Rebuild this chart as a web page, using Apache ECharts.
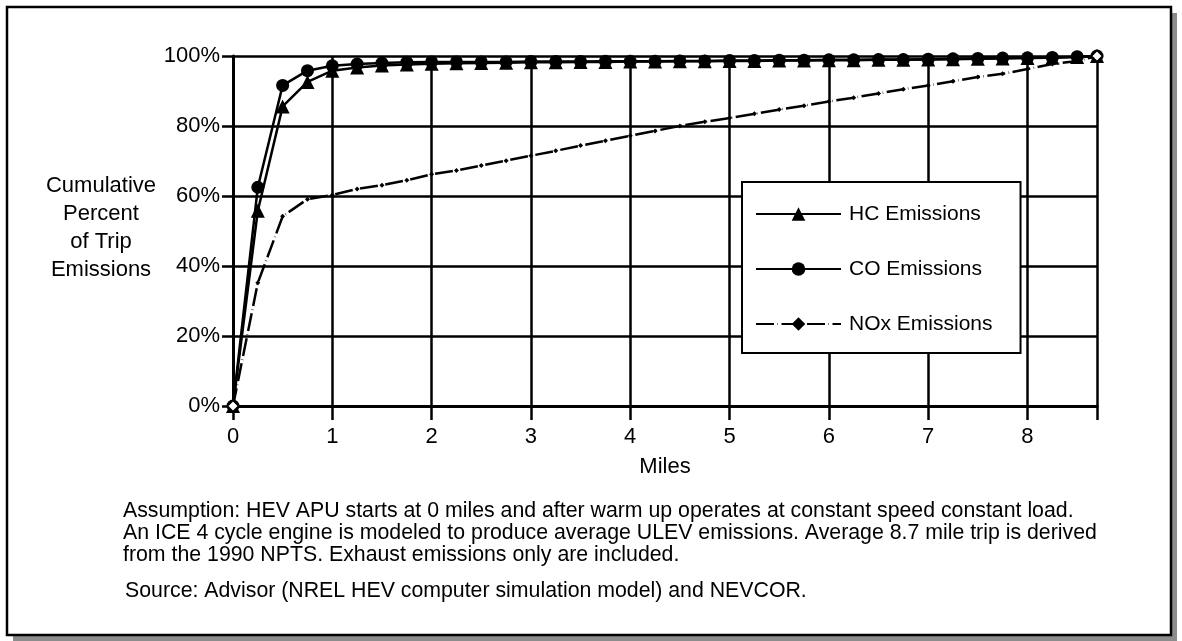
<!DOCTYPE html>
<html>
<head>
<meta charset="utf-8">
<script src="https://cdn.jsdelivr.net/npm/echarts@6/dist/echarts.min.js"></script>
<style>
html,body{margin:0;padding:0;background:#fff;}
#chart{width:1182px;height:641px;}
</style>
</head>
<body>
<div id="chart"></div>
<script>
// Miles travelled (x values)
var miles = [0, 0.25, 0.5, 0.75, 1, 1.25, 1.5, 1.75, 2, 2.25, 2.5, 2.75, 3, 3.25, 3.5, 3.75, 4, 4.25,
  4.5, 4.75, 5, 5.25, 5.5, 5.75, 6, 6.25, 6.5, 6.75, 7, 7.25, 7.5, 7.75, 8, 8.25, 8.5, 8.7];
// Cumulative percent of trip emissions
var hcEmissions = [0, 55.8, 85.6, 92.6, 95.8, 96.7, 97.3, 97.6, 97.8, 97.9, 98.0, 98.1, 98.2, 98.2,
  98.3, 98.3, 98.4, 98.4, 98.5, 98.5, 98.6, 98.6, 98.7, 98.7, 98.8, 98.8, 98.9, 98.9, 99.0, 99.1,
  99.2, 99.3, 99.4, 99.5, 99.7, 100];
var coEmissions = [0, 62.5, 91.6, 95.8, 97.2, 97.7, 98.0, 98.2, 98.3, 98.3, 98.3, 98.3, 98.4, 98.4,
  98.4, 98.5, 98.5, 98.5, 98.6, 98.6, 98.7, 98.7, 98.8, 98.8, 98.9, 98.9, 99.0, 99.0, 99.1, 99.2,
  99.3, 99.4, 99.5, 99.6, 99.8, 100];
var noxEmissions = [0, 35.2, 54.2, 59.1, 60.3, 62.0, 63.1, 64.5, 66.2, 67.3, 68.7, 70.1, 71.5, 72.9,
  74.4, 75.8, 77.2, 78.6, 80.0, 81.2, 82.3, 83.5, 84.7, 85.8, 87.0, 88.1, 89.3, 90.5, 91.6, 92.8,
  94.0, 94.9, 96.3, 97.7, 98.6, 100];
var seriesNames = ['HC Emissions', 'CO Emissions', 'NOx Emissions'];
var yTicks = [0, 20, 40, 60, 80, 100];
var xTicks = [0, 1, 2, 3, 4, 5, 6, 7, 8];
var yAxisTitle = 'Cumulative\nPercent\nof Trip\nEmissions';
var xAxisTitle = 'Miles';
var noteText = 'Assumption: HEV APU starts at 0 miles and after warm up operates at constant speed constant load.\n' +
  'An ICE 4 cycle engine is modeled to produce average ULEV emissions. Average 8.7 mile trip is derived\n' +
  'from the 1990 NPTS. Exhaust emissions only are included.';
var sourceText = 'Source: Advisor (NREL HEV computer simulation model) and NEVCOR.';

var FONT = '"Liberation Sans", Arial, sans-serif';

function pairs(vals) {
  return vals.map(function (v, i) { return [miles[i], v]; });
}
var noxData = pairs(noxEmissions).map(function (p, i) {
  if (i === 0 || i === noxEmissions.length - 1) {
    return { value: p, symbol: 'diamond', symbolSize: 11,
      itemStyle: { color: '#fff', borderColor: '#000', borderWidth: 1.5 } };
  }
  return p;
});

var chart = echarts.init(document.getElementById('chart'), null, { renderer: 'canvas' });
chart.setOption({
  animation: false,
  backgroundColor: '#fff',
  graphic: [
    { type: 'rect', z: -20, silent: true, shape: { x: 13, y: 13, width: 1164, height: 628 },
      style: { fill: '#8c8c8c' } },
    { type: 'rect', z: -19, silent: true, shape: { x: 7, y: 7, width: 1164, height: 628 },
      style: { fill: '#fff', stroke: '#000', lineWidth: 2.5 } }
  ],
  title: [
    { text: yAxisTitle, left: 101, top: 172, textAlign: 'center', padding: 0,
      textStyle: { fontFamily: FONT, fontSize: 22, fontWeight: 'normal', color: '#000', lineHeight: 28, align: 'center' } },
    { text: noteText, left: 123, top: 500, padding: 0,
      textStyle: { fontFamily: FONT, fontSize: 21.3, fontWeight: 'normal', color: '#000', lineHeight: 22 } },
    { text: sourceText, left: 125, top: 580, padding: 0,
      textStyle: { fontFamily: FONT, fontSize: 21.3, fontWeight: 'normal', color: '#000', lineHeight: 22 } }
  ],
  legend: {
    data: seriesNames,
    orient: 'vertical',
    left: 742, top: 182,
    padding: [21, 28, 18, 13],
    itemGap: 33,
    itemWidth: 85,
    itemHeight: 17,
    backgroundColor: '#fff',
    borderColor: '#000',
    borderWidth: 2,
    textStyle: { fontFamily: FONT, fontSize: 21, color: '#000', lineHeight: 22, padding: [0, 0, 0, 3] }
  },
  grid: { left: 233, right: 85, top: 56, bottom: 235, containLabel: false },
  xAxis: {
    type: 'value', min: 0, max: 8.7, interval: 1,
    name: xAxisTitle, nameLocation: 'middle', nameGap: 50,
    nameTextStyle: { fontFamily: FONT, fontSize: 22, color: '#000' },
    axisLine: { show: true, onZero: false, lineStyle: { color: '#000', width: 3 } },
    axisTick: { show: true, length: 14, lineStyle: { color: '#000', width: 2.5 } },
    axisLabel: {
      fontFamily: FONT, fontSize: 22, color: '#000', margin: 20,
      formatter: function (v) { return xTicks.indexOf(v) >= 0 ? String(v) : ''; }
    },
    splitLine: { show: true, lineStyle: { color: '#000', width: 2.5 } }
  },
  yAxis: {
    type: 'value', min: yTicks[0], max: yTicks[yTicks.length - 1], interval: 20,
    axisLine: { show: true, lineStyle: { color: '#000', width: 3 } },
    axisTick: { show: true, length: 11, lineStyle: { color: '#000', width: 2.5 } },
    axisLabel: { fontFamily: FONT, fontSize: 22, color: '#000', margin: 13, formatter: '{value}%' },
    splitLine: { show: true, lineStyle: { color: '#000', width: 2.5 } }
  },
  series: [
    { name: seriesNames[0], type: 'line', data: pairs(hcEmissions),
      symbol: 'triangle', symbolSize: 14, showSymbol: true,
      lineStyle: { color: '#000', width: 2.5 }, itemStyle: { color: '#000' } },
    { name: seriesNames[1], type: 'line', data: pairs(coEmissions),
      symbol: 'circle', symbolSize: 13, showSymbol: true,
      lineStyle: { color: '#000', width: 2.5 }, itemStyle: { color: '#000' } },
    { name: seriesNames[2], type: 'line', data: noxData,
      symbol: 'diamond', symbolSize: 5, showSymbol: true,
      lineStyle: { color: '#000', width: 2.5, type: [18, 3.5, 0.5, 3.5] }, itemStyle: { color: '#000' } }
  ]
});
</script>
</body>
</html>
